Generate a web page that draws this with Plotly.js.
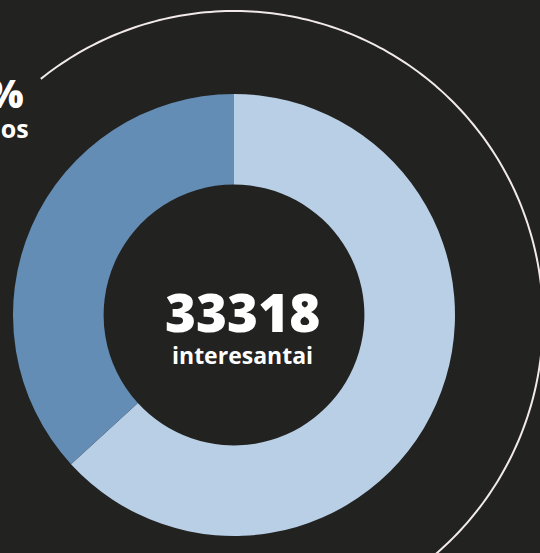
<!DOCTYPE html>
<html>
<head>
<meta charset="utf-8">
<script src="https://cdn.plot.ly/plotly-3.0.1.min.js"></script>
<style>
  html, body { margin: 0; padding: 0; background: #222220; }
  #chart { width: 540px; height: 553px; }
</style>
</head>
<body>
<div id="chart"></div>
<script>
// Data
const categories = ["kiti", "merginos"];
const shares = [63.2, 36.8];
const sliceColors = ["#b8cfe6", "#648db5"];
const totalValue = "33318";
const totalLabel = "interesantai";
const sideLabelValue = "37%";
const sideLabelText = "merginos";

const W = 540, H = 553;
const px = x => x / W;
const py = y => 1 - y / H;

// Decorative outer arc (pixel geometry -> paper coords)
const arcCx = 234, arcCy = 320, arcR = 309;
const a0 = -128.7, a1 = 62;
let path = "";
for (let i = 0; i <= 200; i++) {
  const a = (a0 + (a1 - a0) * i / 200) * Math.PI / 180;
  const x = arcCx + arcR * Math.cos(a);
  const y = arcCy + arcR * Math.sin(a);
  path += (i === 0 ? "M" : " L") + px(x).toFixed(5) + "," + py(y).toFixed(5);
}

const cx = 234, cy = 315, R = 221;

const data = [{
  type: "pie",
  labels: categories,
  values: shares,
  hole: 0.59,
  sort: false,
  direction: "counterclockwise",
  rotation: 0,
  textinfo: "none",
  hoverinfo: "label+percent",
  marker: { colors: sliceColors, line: { width: 0 } },
  domain: { x: [px(cx - R), px(cx + R)], y: [py(cy + R), py(cy - R)] },
  showlegend: false
}];

const layout = {
  width: W, height: H,
  margin: { l: 0, r: 0, t: 0, b: 0 },
  paper_bgcolor: "#222220",
  plot_bgcolor: "#222220",
  showlegend: false,
  shapes: [{
    type: "path", xref: "paper", yref: "paper", path: path,
    line: { color: "#f2eaea", width: 2 }, layer: "above"
  }],
  annotations: [
    { text: totalValue, x: px(cx + 8), y: py(311), xref: "paper", yref: "paper",
      showarrow: false, xanchor: "center", yanchor: "middle",
      font: { family: "Open Sans", size: 53, color: "#ffffff", weight: 800 } },
    { text: totalLabel, x: px(cx + 8), y: py(355), xref: "paper", yref: "paper",
      showarrow: false, xanchor: "center", yanchor: "middle",
      font: { family: "Open Sans", size: 23, color: "#ffffff", weight: 700 } },
    { text: sideLabelValue, x: px(26), y: py(93), xref: "paper", yref: "paper",
      showarrow: false, xanchor: "right", yanchor: "middle",
      font: { family: "Open Sans", size: 38, color: "#ffffff", weight: 800 } },
    { text: sideLabelText, x: px(31), y: py(128), xref: "paper", yref: "paper",
      showarrow: false, xanchor: "right", yanchor: "middle",
      font: { family: "Open Sans", size: 25, color: "#ffffff", weight: 700 } }
  ]
};

Plotly.newPlot("chart", data, layout, { displayModeBar: false, staticPlot: true });
</script>
</body>
</html>
